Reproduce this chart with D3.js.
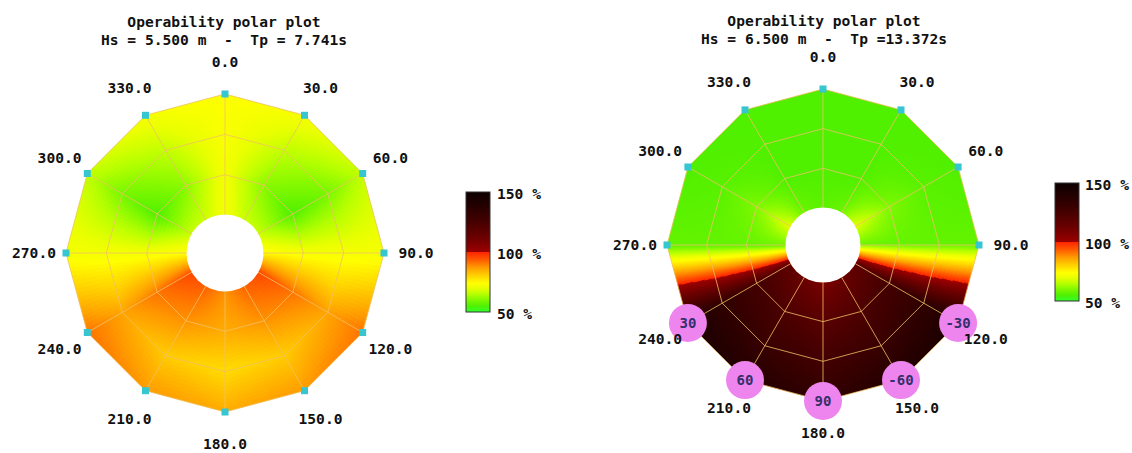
<!DOCTYPE html>
<html>
<head>
<meta charset="utf-8">
<script src="https://cdn.jsdelivr.net/npm/d3@7"></script>
<style>
  html, body { margin: 0; padding: 0; background: #ffffff; }
  svg { display: block; }
  text { font-family: "DejaVu Sans Mono", "Liberation Mono", monospace; font-weight: bold; fill: #111111; }
</style>
</head>
<body>
<svg id="chart" width="1132" height="453"></svg>
<script>
// Ship headings (deg) and the forward-speed rings of the mesh
const headings = [0, 30, 60, 90, 120, 150, 180, 210, 240, 270, 300, 330];
const headingLabels = ["0.0", "30.0", "60.0", "90.0", "120.0", "150.0", "180.0", "210.0", "240.0", "270.0", "300.0", "330.0"];
const speedsKn = [0, 5, 10, 15];

// Operability index (% of limiting criterion), sea state Hs 5.5 m / Tp 7.741 s
// one array per speed ring, ordered like `headings`
const opA_ring0 = [72, 67, 67, 74, 96, 93, 88, 93, 96, 74, 67, 67];
const opA_ring1 = [72, 61, 55, 72, 91, 88, 85, 88, 91, 72, 55, 61];
const opA_ring2 = [73, 66, 59, 72, 86, 81, 79, 81, 86, 72, 59, 66];
const opA_ring3 = [74, 72, 66, 72, 91, 87, 85, 87, 91, 72, 66, 72];

// Operability index, sea state Hs 6.5 m / Tp 13.372 s
const opB_ring0 = [56, 58, 70, 58, 116, 112, 108, 112, 116, 58, 70, 58];
const opB_ring1 = [55, 55, 60, 57, 126, 122, 118, 122, 126, 57, 60, 55];
const opB_ring2 = [55, 55, 56, 57, 134, 130, 126, 130, 134, 57, 56, 55];
const opB_ring3 = [55, 55, 55, 57, 142, 139, 133, 139, 142, 57, 55, 55];

// Relative wave heading markers shown on the second plot
const relHeadingAt = [120, 150, 180, 210, 240];
const relHeadingText = ["-30", "-60", "90", "60", "30"];

// Colour bar ticks
const barTicks = [50, 100, 150];
const barTickLabels = ["50 %", "100 %", "150 %"];

// Colour map: green -> yellow -> red below 100 %, dark red -> black above
const colorStops = [50, 55, 60, 65, 70, 74, 80, 87, 93, 99.9, 100, 112, 125, 138, 150];
const colorRamp = ["#30ff30", "#50f000", "#80f800", "#b8ff00", "#eaff00", "#ffff00", "#ffd400",
                   "#ff9c00", "#ff6000", "#ff2400", "#9c0000", "#6c0000", "#460000", "#260000", "#0c0000"];
const color = d3.scaleLinear().domain(colorStops).range(colorRamp)
  .interpolate(d3.interpolateRgb).clamp(true);

const panels = [
  {
    id: "A",
    title: "Operability polar plot",
    subtitle: "Hs = 5.500 m  -  Tp = 7.741s",
    values: [opA_ring0, opA_ring1, opA_ring2, opA_ring3],
    cx: 225, cy: 253, rHole: 38, rOuter: 159,
    titleX: 224, titleY: 22,
    bar: { x: 466, y: 192, w: 24, h: 120, labelX: 497 },
    relMarkers: false
  },
  {
    id: "B",
    title: "Operability polar plot",
    subtitle: "Hs = 6.500 m  -  Tp =13.372s",
    values: [opB_ring0, opB_ring1, opB_ring2, opB_ring3],
    cx: 823, cy: 245, rHole: 37, rOuter: 156,
    titleX: 824, titleY: 21,
    bar: { x: 1055, y: 183, w: 24, h: 118, labelX: 1085 },
    relMarkers: true
  }
];

const svg = d3.select("#chart");
const defs = svg.append("defs");
const NV = 10;   // radial subdivision of each mesh cell for smooth shading

function drawPanel(cfg) {
  const g = svg.append("g").attr("class", "panel-" + cfg.id);
  const ang = d3.scaleLinear().domain([0, 360]).range([0, 2 * Math.PI]);
  const rad = d3.scaleLinear().domain(d3.extent(speedsKn)).range([cfg.rHole, cfg.rOuter]);
  const pt = (h, s) => [cfg.cx + rad(s) * Math.sin(ang(h)), cfg.cy - rad(s) * Math.cos(ang(h))];

  // shaded mesh: bilinear interpolation of the operability value inside each cell
  const quads = [];
  const n = headings.length;
  for (let i = 0; i < n; i++) {
    const i2 = (i + 1) % n;
    const h0 = headings[i], h1 = i2 === 0 ? 360 : headings[i2];
    for (let j = 0; j < speedsKn.length - 1; j++) {
      const P00 = pt(h0, speedsKn[j]), P10 = pt(h1, speedsKn[j]);
      const P01 = pt(h0, speedsKn[j + 1]), P11 = pt(h1, speedsKn[j + 1]);
      const v00 = cfg.values[j][i], v10 = cfg.values[j][i2];
      const v01 = cfg.values[j + 1][i], v11 = cfg.values[j + 1][i2];
      const spread = d3.max([v00, v10, v01, v11]) - d3.min([v00, v10, v01, v11]);
      const NU = spread > 30 ? 64 : 18;
      const bil = (u, w) => [
        (1 - u) * (1 - w) * P00[0] + u * (1 - w) * P10[0] + (1 - u) * w * P01[0] + u * w * P11[0],
        (1 - u) * (1 - w) * P00[1] + u * (1 - w) * P10[1] + (1 - u) * w * P01[1] + u * w * P11[1]
      ];
      for (let a = 0; a < NU; a++) {
        for (let b = 0; b < NV; b++) {
          const u0 = a / NU, u1 = (a + 1) / NU, w0 = b / NV, w1 = (b + 1) / NV;
          const um = (u0 + u1) / 2, wm = (w0 + w1) / 2;
          const val = (1 - um) * (1 - wm) * v00 + um * (1 - wm) * v10 + (1 - um) * wm * v01 + um * wm * v11;
          quads.push({ c: [bil(u0, w0), bil(u1, w0), bil(u1, w1), bil(u0, w1)], val });
        }
      }
    }
  }
  // clip keeps the seam-covering strokes inside the mesh outline
  const sMax = speedsKn[speedsKn.length - 1];
  const ringLine = d3.line().curve(d3.curveLinearClosed);
  const clipId = "clip" + cfg.id;
  defs.append("clipPath").attr("id", clipId).append("path")
    .attr("d", ringLine(headings.map(h => pt(h, sMax))));
  g.append("g").attr("clip-path", "url(#" + clipId + ")")
    .selectAll("path").data(quads).join("path")
    .attr("d", d => "M" + d.c.map(p => p[0].toFixed(2) + "," + p[1].toFixed(2)).join("L") + "Z")
    .attr("fill", d => color(d.val))
    .attr("stroke", d => color(d.val))
    .attr("stroke-width", 1.3);

  // central hole
  g.append("circle").attr("cx", cfg.cx).attr("cy", cfg.cy).attr("r", cfg.rHole + 0.5)
    .attr("fill", "#ffffff");

  // grid: speed rings and heading spokes
  const grid = g.append("g").attr("fill", "none")
    .attr("stroke", "rgba(240,192,100,0.8)").attr("stroke-width", 1);
  grid.selectAll("path.ring").data(speedsKn.slice(1)).join("path")
    .attr("class", "ring")
    .attr("d", s => ringLine(headings.map(h => pt(h, s))));
  grid.selectAll("line.spoke").data(headings).join("line")
    .attr("class", "spoke")
    .attr("x1", h => pt(h, speedsKn[0])[0]).attr("y1", h => pt(h, speedsKn[0])[1])
    .attr("x2", h => pt(h, sMax)[0])
    .attr("y2", h => pt(h, sMax)[1]);

  // heading markers on the outer ring
  g.append("g").selectAll("rect").data(headings).join("rect")
    .attr("x", h => pt(h, sMax)[0] - 3.5).attr("y", h => pt(h, sMax)[1] - 3.5)
    .attr("width", 7).attr("height", 7)
    .attr("fill", "#36c6d2");

  if (cfg.relMarkers) {
    const rm = g.append("g");
    const items = relHeadingAt.map((h, k) => ({ h, t: relHeadingText[k] }));
    rm.selectAll("circle").data(items).join("circle")
      .attr("cx", d => pt(d.h, sMax)[0]).attr("cy", d => pt(d.h, sMax)[1])
      .attr("r", 19).attr("fill", "#ee84ee");
    rm.selectAll("text").data(items).join("text")
      .attr("x", d => pt(d.h, sMax)[0]).attr("y", d => pt(d.h, sMax)[1])
      .attr("dy", "0.36em").attr("text-anchor", "middle")
      .style("font-size", "14px").style("fill", "#35306c")
      .text(d => d.t);
  }

  // heading labels outside the polygon
  const rLab = cfg.rOuter + 32;
  g.append("g").selectAll("text").data(headings).join("text")
    .attr("x", h => cfg.cx + rLab * Math.sin(ang(h)))
    .attr("y", h => cfg.cy - rLab * Math.cos(ang(h)))
    .attr("dy", "0.36em").attr("text-anchor", "middle")
    .style("font-size", "14.6px")
    .text((h, k) => headingLabels[k]);

  // titles
  g.append("text").attr("x", cfg.titleX).attr("y", cfg.titleY).attr("dy", "0.36em")
    .attr("text-anchor", "middle").style("font-size", "14.6px").text(cfg.title);
  g.append("text").attr("x", cfg.titleX).attr("y", cfg.titleY + 18).attr("dy", "0.36em")
    .attr("text-anchor", "middle").style("font-size", "14.6px").style("white-space", "pre")
    .text(cfg.subtitle);

  // colour bar
  const b = cfg.bar;
  const gradId = "grad" + cfg.id;
  const grad = defs.append("linearGradient").attr("id", gradId)
    .attr("x1", 0).attr("y1", 1).attr("x2", 0).attr("y2", 0);
  const dom = [50, 150];
  const off = v => (v - dom[0]) / (dom[1] - dom[0]);
  const stopVals = d3.range(50, 100, 1).concat([99.9, 100]).concat(d3.range(101, 151, 1));
  grad.selectAll("stop").data(stopVals).join("stop")
    .attr("offset", v => (v === 99.9 ? off(100) : off(v)))
    .attr("stop-color", v => color(v));
  g.append("rect").attr("x", b.x).attr("y", b.y).attr("width", b.w).attr("height", b.h)
    .attr("fill", "url(#" + gradId + ")")
    .attr("stroke", "#333333").attr("stroke-width", 1);
  const yBar = d3.scaleLinear().domain(dom).range([b.y + b.h, b.y]);
  g.append("g").selectAll("text").data(barTicks).join("text")
    .attr("x", b.labelX).attr("y", v => yBar(v) + 1.5).attr("dy", "0.36em")
    .style("font-size", "14.6px").style("white-space", "pre")
    .text((v, k) => barTickLabels[k]);
}

panels.forEach(drawPanel);
</script>
</body>
</html>
